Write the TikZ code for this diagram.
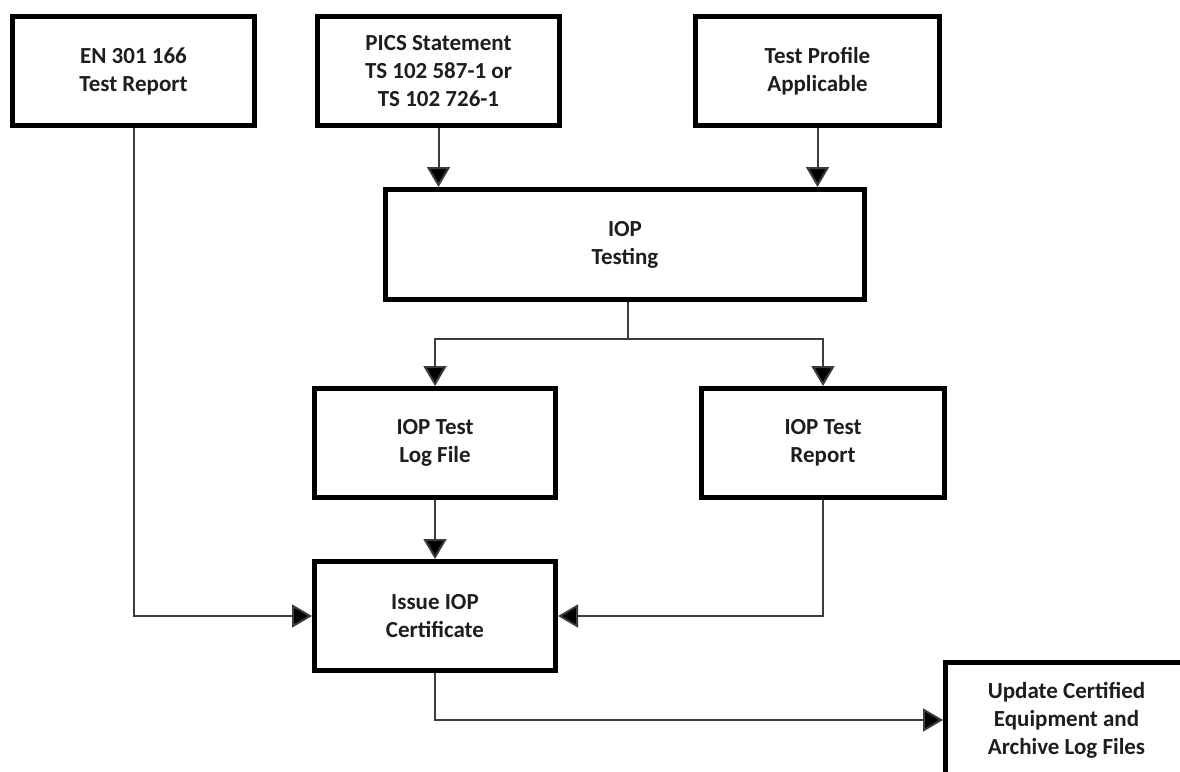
\documentclass[tikz,border=0pt]{standalone}
\usepackage{fontspec}
\setmainfont{Carlito}
\usetikzlibrary{arrows.meta}
\definecolor{linegray}{RGB}{60,60,60}
\definecolor{txt}{RGB}{30,30,30}
\tikzset{
  box/.style={draw=black, line width=5pt, rectangle, fill=white, align=center,
    text=txt, font=\bfseries\fontsize{23}{28}\selectfont, inner sep=0pt},
  conn/.style={draw=linegray, line width=2pt, -{Triangle[width=23pt,length=20pt,fill=black]}},
  plain/.style={draw=linegray, line width=2pt},
}
\begin{document}
\begin{tikzpicture}[x=1pt,y=-1pt]
\clip (0,0) rectangle (1180,771);
\fill[white] (0,0) rectangle (1180,771);
\node[box, minimum width=242pt, minimum height=109pt] (en) at (133.5,71) {EN 301 166\\Test Report};
\node[box, minimum width=242pt, minimum height=109pt] (pics) at (438.5,71) {PICS Statement\\TS 102 587-1 or\\TS 102 726-1};
\node[box, minimum width=244pt, minimum height=109pt] (prof) at (817.5,71) {Test Profile\\Applicable};
\node[box, minimum width=479pt, minimum height=110pt] (iop) at (625,244.5) {IOP\\Testing};
\node[box, minimum width=241pt, minimum height=109pt] (log) at (435,443) {IOP Test\\Log File};
\node[box, minimum width=243pt, minimum height=109pt] (rep) at (823,443) {IOP Test\\Report};
\node[box, minimum width=241pt, minimum height=109pt] (issue) at (435,616) {Issue IOP\\Certificate};
\node[box, minimum width=242pt, minimum height=115pt] (upd) at (1066.5,720) {Update Certified\\Equipment and\\Archive Log Files};
\coordinate (br) at (628,339);
\draw[conn] (pics.south) -- (pics.south |- iop.north);
\draw[conn] (prof.south) -- (prof.south |- iop.north);
\draw[plain] (iop.south -| br) -- (br);
\draw[conn] (br) -| (log.north);
\draw[conn] (br) -| (rep.north);
\draw[conn] (log.south) -- (issue.north);
\draw[conn] (en.south) |- (issue.west);
\draw[conn] (rep.south) |- (issue.east);
\draw[conn] (issue.south) |- (upd.west);
\end{tikzpicture}
\end{document}
